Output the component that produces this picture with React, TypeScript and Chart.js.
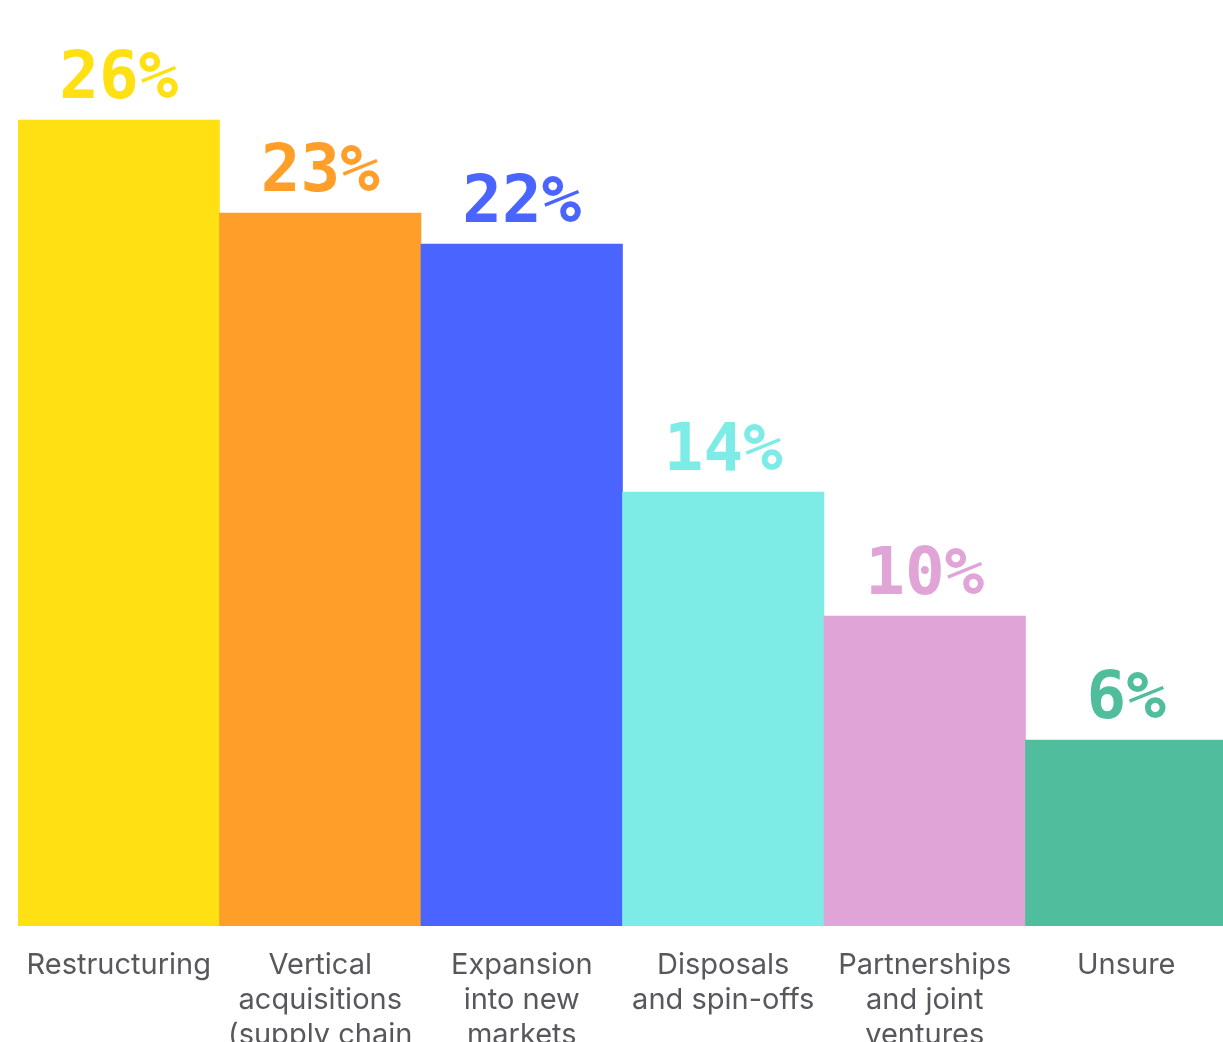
import React, { useEffect, useRef } from "react";
import { Chart, registerables } from "chart.js";

Chart.register(...registerables);

const categories: string[][] = [
  ["Restructuring"],
  ["Vertical", "acquisitions", "(supply chain"],
  ["Expansion", "into new", "markets"],
  ["Disposals", "and spin-offs"],
  ["Partnerships", "and joint", "ventures"],
  ["Unsure"],
];
const values: number[] = [26, 23, 22, 14, 10, 6];
const colors: string[] = ["#FFE012", "#FF9E28", "#4A65FF", "#7EECE6", "#E0A4D7", "#50BE9D"];

const valueLabels = {
  id: "valueLabels",
  afterDatasetsDraw(chart: any) {
    const ctx = chart.ctx;
    const meta = chart.getDatasetMeta(0);
    ctx.save();
    ctx.font = "bold 66px 'DejaVu Sans Mono'";
    ctx.textAlign = "center";
    ctx.textBaseline = "alphabetic";
    meta.data.forEach((bar: any, i: number) => {
      ctx.fillStyle = colors[i];
      ctx.fillText(values[i] + "%", bar.x, bar.y - 22);
    });
    ctx.restore();
  },
};

export default function App() {
  const ref = useRef<HTMLCanvasElement>(null);
  useEffect(() => {
    document.documentElement.style.overflow = "hidden";
    document.body.style.overflow = "hidden";
    const chart = new Chart(ref.current!, {
      type: "bar",
      data: {
        labels: categories,
        datasets: [
          {
            data: values,
            backgroundColor: colors,
            borderWidth: 0,
            barPercentage: 1,
            categoryPercentage: 1,
          },
        ],
      },
      options: {
        animation: false,
        responsive: false,
        maintainAspectRatio: false,
        layout: { padding: { top: 19, left: 10, right: 0, bottom: 5 } },
        plugins: { legend: { display: false }, tooltip: { enabled: false } },
        scales: {
          x: {
            afterFit: (s: any) => {
              s.paddingLeft = 0;
              s.paddingRight = 0;
            },
            grid: { display: false, drawTicks: false },
            border: { display: false },
            ticks: {
              color: "#58585B",
              font: { family: "Inter", size: 29, lineHeight: 35 / 29 },
              padding: 22,
              maxRotation: 0,
              autoSkip: false,
            },
          },
          y: {
            display: false,
            min: 0,
            max: 29,
          },
        },
      },
      plugins: [valueLabels],
    });
    return () => chart.destroy();
  }, []);
  return (
    <div style={{ position: "fixed", left: 8, top: 8, width: 1219, height: 1072 }}>
      <canvas ref={ref} width={1219} height={1072} style={{ display: "block" }} />
    </div>
  );
}
